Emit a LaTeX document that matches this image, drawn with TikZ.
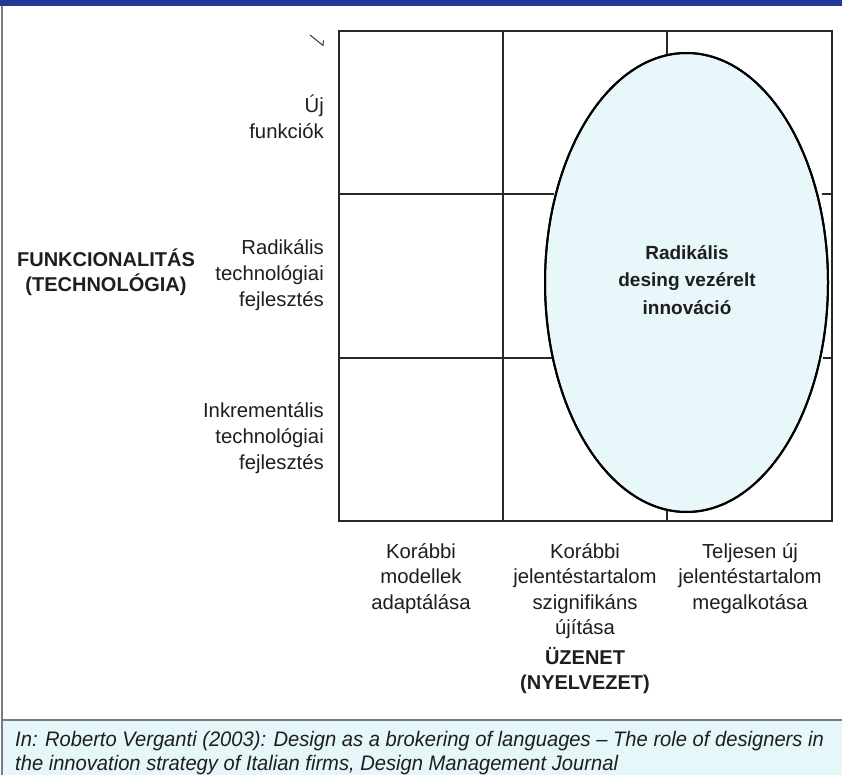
\documentclass[tikz,border=0pt]{standalone}
\usepackage{fontspec}
\setmainfont{Liberation Sans}
\usetikzlibrary{shapes.geometric}
\definecolor{barblue}{RGB}{36,56,152}
\definecolor{gridgray}{RGB}{40,40,40}
\definecolor{txt}{RGB}{30,30,30}
\definecolor{ellfill}{RGB}{232,248,250}
\definecolor{capfill}{RGB}{230,247,249}
\definecolor{capline}{RGB}{120,125,130}
\tikzset{
  gridline/.style={draw=gridgray, line width=1.4pt},
  rowlabel/.style={anchor=east, align=right, inner sep=0pt, text=txt,
    font=\fontsize{20.3}{26}\selectfont},
  collabel/.style={anchor=north, align=center, inner sep=0pt, text=txt,
    font=\fontsize{20.3}{25.5}\selectfont},
  axislabel/.style={align=center, inner sep=0pt, text=txt,
    font=\bfseries\fontsize{20}{25.5}\selectfont},
  caption/.style={anchor=west, inner sep=0pt, text=txt,
    font=\itshape\fontsize{21}{24}\selectfont},
}
\begin{document}
\begin{tikzpicture}[x=1pt, y=-1pt]
\useasboundingbox (0,0) rectangle (842,775);
\fill[white] (0,0) rectangle (842,775);
% top bar
\fill[barblue] (0,0) rectangle (842,6.5);
% left border line
\draw[capline, line width=1.2pt] (2,6.5) -- (2,775);
% caption band
\fill[capfill] (2.6,720) rectangle (842,775);
\draw[capline, line width=1.2pt] (2,720) -- (842,720);

% grid coordinates
\coordinate (g00) at (339,31);
\coordinate (g11) at (832,521);
% ellipse
\node[ellipse, draw=black, line width=2pt, fill=ellfill,
      minimum width=283pt, minimum height=459pt, inner sep=0pt,
      text=txt] (ell) at (686.5,282.5) {};
\node[align=center, inner sep=0pt, text=txt,
      font=\bfseries\fontsize{19}{27.5}\selectfont]
      (elltext) at (687,280) {Radikális\\desing vezérelt\\innováció};
% grid: outer frame and inner lines (hidden under the ellipse)
\draw[gridline] (g00) rectangle (g11);
\coordinate (v1t) at (503,31);   \coordinate (v1b) at (503,521);
\coordinate (v2t) at (667,31);   \coordinate (v2b) at (667,54);
\coordinate (v2c) at (667,511);  \coordinate (v2d) at (667,521);
\coordinate (h1l) at (339,194);  \coordinate (h1m) at (554,194);
\coordinate (h1n) at (822,194);  \coordinate (h1r) at (832,194);
\coordinate (h2l) at (339,358);  \coordinate (h2m) at (552,358);
\coordinate (h2n) at (823,358);  \coordinate (h2r) at (832,358);
\draw[gridline] (v1t) -- (v1b);
\draw[gridline] (v2t) -- (v2b);
\draw[gridline] (v2c) -- (v2d);
\draw[gridline] (h1l) -- (h1m);
\draw[gridline] (h1n) -- (h1r);
\draw[gridline] (h2l) -- (h2m);
\draw[gridline] (h2n) -- (h2r);
% redraw ellipse outline on top
\draw[black, line width=2pt] (ell.center) ellipse [x radius=141.5pt, y radius=229.5pt];

% small stray mark
\coordinate (m1) at (310,35);
\coordinate (m2) at (323,45.5);
\coordinate (m3) at (323.5,40.5);
\draw[gridgray, line width=0.9pt] (m1) -- (m2) -- (m3);

% row labels
\node[rowlabel] (r1) at (324,117) {Új\\funkciók};
\node[rowlabel] (r2) at (324,275) {Radikális\\technológiai\\fejlesztés};
\node[rowlabel] (r3) at (324,438) {Inkrementális\\technológiai\\fejlesztés};
\node[axislabel] (ya) at (106,272) {FUNKCIONALITÁS\\(TECHNOLÓGIA)};

% column labels
\node[collabel] (c1) at (421,543) {Korábbi\\modellek\\adaptálása};
\node[collabel] (c2) at (585,543) {Korábbi\\jelentéstartalom\\szignifikáns\\újítása};
\node[collabel] (c3) at (750,543) {Teljesen új\\jelentéstartalom\\megalkotása};
\node[axislabel, anchor=north] (xa) at (585,647) {ÜZENET\\(NYELVEZET)};

% caption
\node[caption] (cap1) at (15,741) {\scalebox{0.96}[1]{In: Roberto Verganti (2003): Design as a brokering of languages – The role of designers in}};
\node[caption] (cap2) at (15,765) {\scalebox{0.96}[1]{the innovation strategy of Italian firms, Design Management Journal}};
\end{tikzpicture}
\end{document}
